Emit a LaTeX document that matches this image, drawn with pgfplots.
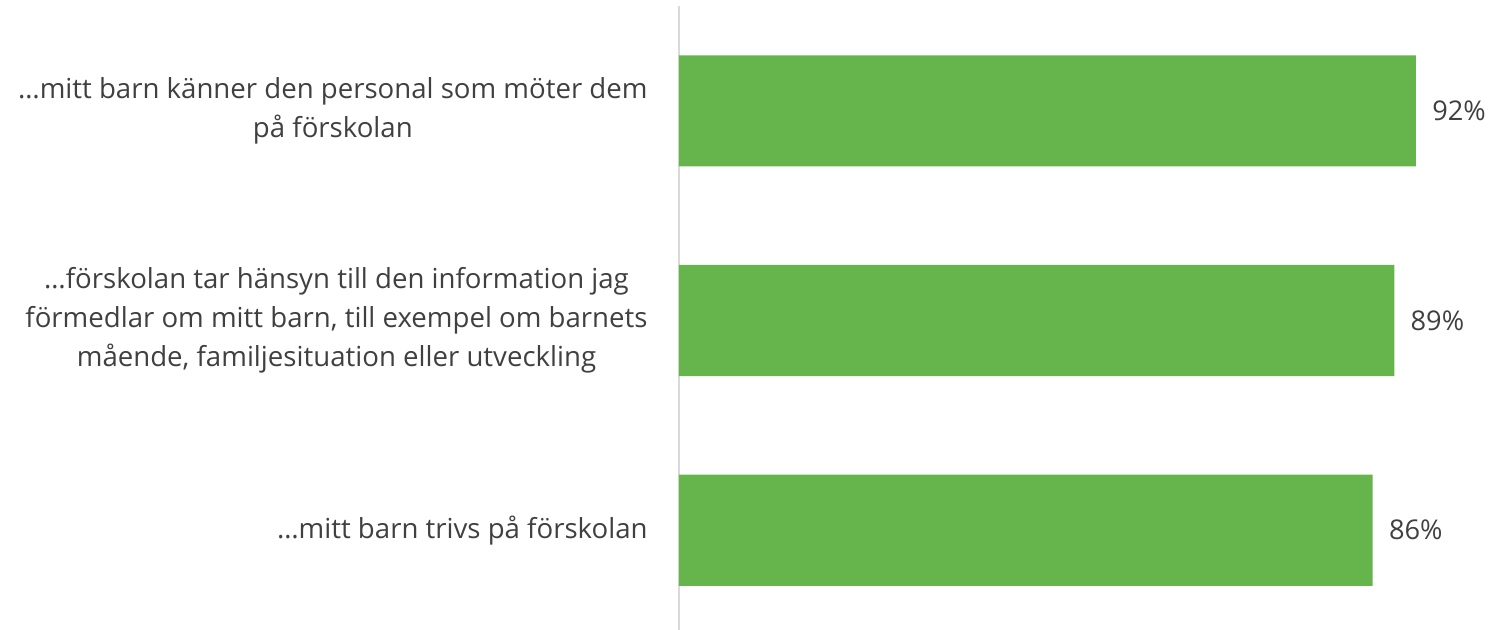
\documentclass[border=0pt]{standalone}
\usepackage{pgfplots}
\pgfplotsset{compat=1.18}
\usepackage{fontspec}
\setmainfont{Open Sans}
\definecolor{barg}{RGB}{102,180,76}
\definecolor{txt}{RGB}{64,64,64}
\definecolor{axg}{RGB}{217,217,217}
\begin{document}
\begin{tikzpicture}
\begin{axis}[
  name=ax,
  scale only axis,
  width=400.5bp, height=312bp,
  xbar, bar width=0.53,
  xmin=0, xmax=100,
  ymin=-0.476, ymax=2.5,
  ytick={0,1,2},
  yticklabels={{…mitt barn trivs på förskolan},
               {…förskolan tar hänsyn till den information jag\\förmedlar om mitt barn, till exempel om barnets\\mående, familjesituation eller utveckling},
               {…mitt barn känner den personal som möter dem\\på förskolan}},
  yticklabel style={align=center, anchor=east, font=\fontsize{13.8bp}{19.4bp}\selectfont, text=txt, inner sep=0pt, xshift=-15.5bp},
  major tick length=0pt,
  xtick=\empty,
  axis x line=none,
  axis y line*=left,
  y axis line style={draw=axg, line width=1bp},
  point meta=explicit symbolic,
  nodes near coords={\pgfplotspointmeta\%},
  nodes near coords style={font=\fontsize{13.6bp}{17bp}\selectfont, text=txt, anchor=west, inner sep=0pt, xshift=8bp},
  clip=false,
]
\addplot[fill=barg, draw=none] coordinates {(86.6,0)[86] (89.3,1)[89] (92,2)[92]};
\end{axis}
\pgfresetboundingbox
\path ([xshift=-339.5bp]ax.south west) rectangle ([xshift=4bp,yshift=3bp]ax.north east);
\end{tikzpicture}
\end{document}
